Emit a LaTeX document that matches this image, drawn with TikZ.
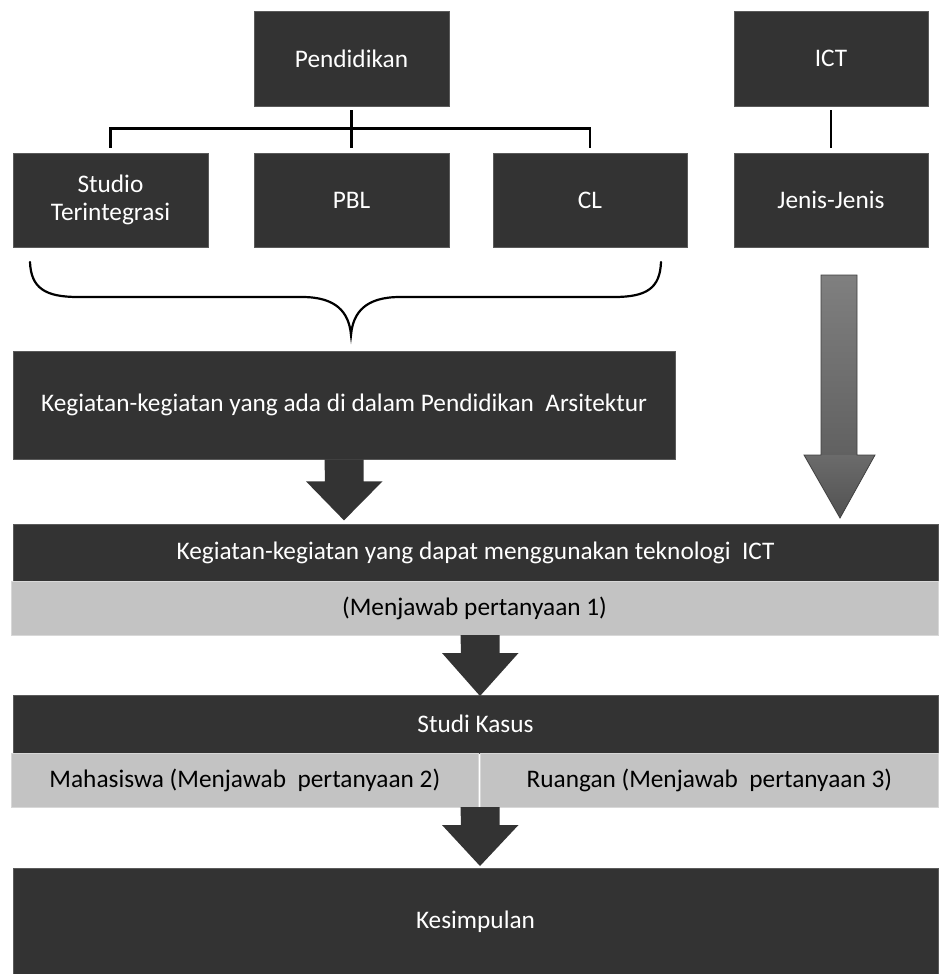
\documentclass[tikz,border=0pt]{standalone}
\usepackage{fontspec}
\setmainfont{Carlito}
\usetikzlibrary{calc}
\definecolor{boxdark}{HTML}{333333}
\definecolor{boxedge}{HTML}{5A5A5A}
\definecolor{barlight}{HTML}{C3C3C3}
\definecolor{baredge}{HTML}{D8D8D8}
\begin{document}
\begin{tikzpicture}[x=1pt,y=-1pt,
  dbox/.style={fill=boxdark, draw=boxedge, line width=0.7pt, text=white,
    font=\fontsize{25.3}{28}\selectfont, inner sep=0pt, align=center},
  lbar/.style={fill=barlight, draw=baredge, line width=0.7pt, text=black,
    font=\fontsize{25.3}{28}\selectfont, inner sep=0pt, align=center},
  conn/.style={line width=2.4pt, black},
  blockarrow/.style={fill=boxdark}]
\useasboundingbox (0,0) rectangle (938,974);
\fill[white] (0,0) rectangle (938,974);
% top row
\node[dbox, minimum width=195pt, minimum height=95pt] (pend) at (351.5,58.5) {Pendidikan};
\node[dbox, minimum width=194pt, minimum height=95pt] (ict) at (831,58.5) {ICT};
% second row
\node[dbox, minimum width=195pt, minimum height=94pt] (studio) at (110.5,200) {Studio\\Terintegrasi};
\node[dbox, minimum width=195pt, minimum height=94pt] (pbl) at (351.5,200) {PBL};
\node[dbox, minimum width=194pt, minimum height=94pt] (cl) at (590,200) {CL};
\node[dbox, minimum width=194pt, minimum height=94pt] (jenis) at (831,200) {Jenis-Jenis};
% tree connectors
\coordinate (bus) at ($(pend.south)+(0,22)$);
\draw[conn, shorten <=4pt, shorten >=5pt] (pend.south) -- (pbl.north);
\draw[conn, shorten >=5pt] (bus) -| (studio.north);
\draw[conn, shorten >=5pt] (bus) -| (cl.north);
\draw[conn, line width=2pt, shorten <=4pt, shorten >=5pt] (ict.south) -- (jenis.north);
% brace
\draw[line width=2.2pt, black, line cap=round]
  (30,262) .. controls (31,288) and (45,297) .. (78,297)
  -- (302,297) .. controls (336,297) and (349,312) .. (351,335)
  .. controls (353,312) and (366,297) .. (400,297)
  -- (614,297) .. controls (647,297) and (660,288) .. (661,262);
% middle box
\node[dbox, minimum width=662pt, minimum height=108pt] (ada) at (344,405) {Kegiatan-kegiatan yang ada di dalam Pendidikan\ \ Arsitektur};
% bars
\node[dbox, minimum width=925pt, minimum height=57pt] (ictbar) at (475.5,552.5) {Kegiatan-kegiatan yang dapat menggunakan teknologi\ \ ICT};
\node[lbar, minimum width=927pt, minimum height=54pt, anchor=north] (q1) at (474.5,581) {(Menjawab pertanyaan 1)};
\node[dbox, minimum width=925pt, minimum height=58pt] (studi) at (475.5,724) {Studi Kasus};
\node[lbar, minimum width=467pt, minimum height=54pt, anchor=north west] (maha) at (11,753) {Mahasiswa (Menjawab\ \ pertanyaan 2)};
\node[lbar, minimum width=458pt, minimum height=54pt, anchor=north west] (ruang) at (480,753) {Ruangan (Menjawab\ \ pertanyaan 3)};
\node[dbox, minimum width=925pt, minimum height=107pt] (kes) at (475.5,921.5) {Kesimpulan};
% block arrows
\fill[blockarrow] ($(ada.south)+(-19.5,0)$) -- ++(39,0) -- ++(0,22) -- ++(19,0)
  -- ($(ada.south)+(0,61)$) -- ++(-38,-39) -- ++(19,0) -- cycle;
\fill[blockarrow] (460.5,635) -- ++(39,0) -- ++(0,18) -- ++(19,0)
  -- (480,696) -- ++(-38,-43) -- ++(19,0) -- cycle;
\fill[blockarrow] (460.5,807) -- ++(39,0) -- ++(0,18) -- ++(19,0)
  -- (480,866) -- ++(-38,-41) -- ++(19,0) -- cycle;
% gradient arrow from Jenis-Jenis
\shade[top color=black!50, middle color=black!86, bottom color=black!62] (821,275) rectangle (857,455);
\shade[top color=black!58, bottom color=black!68] (804,455) -- (875,455) -- (840,518) -- cycle;
\draw[black!75, line width=0.8pt] (821,275) -- (857,275) -- (857,455) -- (875,455) -- (840,518) -- (804,455) -- (821,455) -- cycle;
\end{tikzpicture}
\end{document}
